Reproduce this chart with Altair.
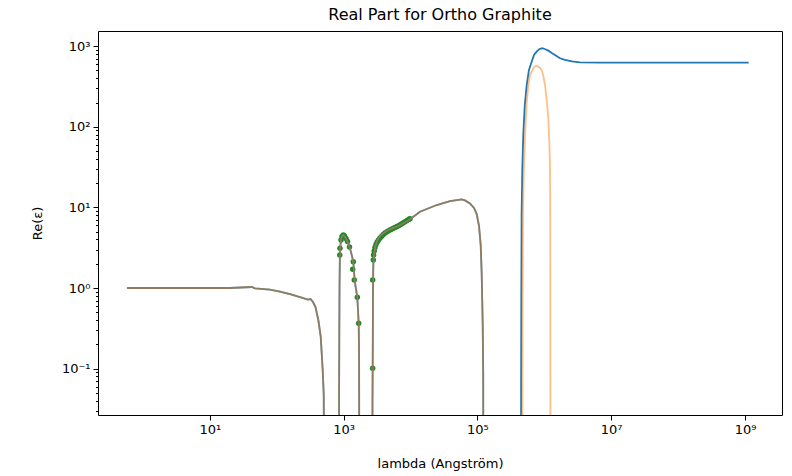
import altair as alt
import pandas as pd

# ---- Re(eps) of ortho graphite vs. wavelength (Angstrom) ----

# Branch A: near-unity region up to the first zero crossing (both curves identical)
lam_a = [0.578, 1.80, 7.13, 20.0, 42.3, 47.4, 79.4, 112, 158, 223, 294, 320, 349, 380, 419, 455, 487, 505, 513]
eps_a = [1.0, 1.0, 1.0, 1.0, 1.03, 0.99, 0.958, 0.90, 0.842, 0.773, 0.72, 0.73, 0.67, 0.581, 0.401, 0.249, 0.096, 0.047, 0.001]

# Branch B: narrow resonance around 1000 A
lam_b = [853, 856, 863, 869, 883, 914, 946, 990, 1050, 1176, 1290, 1396, 1445, 1496, 1603, 1682, 1706, 1718]
eps_b = [0.001, 0.041, 0.30, 1.03, 2.96, 3.94, 4.42, 4.55, 4.29, 3.59, 2.80, 2.12, 1.45, 1.09, 0.767, 0.365, 0.128, 0.001]

# Branch C: broad positive region from ~3000 A to ~1e5 A
lam_c = [2685, 2704, 2723, 2741, 2750, 2780, 2846, 2997, 3211, 3501, 3920, 4406, 4942, 6223, 7805, 9838,
         13870, 24650, 38940, 58210, 65260, 77450, 88920, 97670, 105700, 112000, 115900, 120000, 122100, 123000]
eps_c = [0.001, 0.041, 0.101, 0.40, 0.975, 1.93, 2.57, 3.32, 3.94, 4.42, 4.77, 5.10, 5.35, 5.76, 6.35, 7.12,
         8.85, 10.7, 12.0, 12.6, 12.2, 11.2, 9.84, 8.28, 5.88, 3.41, 1.52, 0.365, 0.0874, 0.001]

# Far-infrared branch, first curve (levels off around 620)
lam_d1 = [448800, 450500, 453000, 458000, 469000, 485000, 511000, 546000, 590000, 648000, 702000, 769000, 847000,
          933000, 1035000, 1148000, 1291000, 1447000, 1718000, 2039000, 2594000, 3418000, 6808000, 38000000,
          212800000, 1135000000]
eps_d1 = [0.001, 0.072, 0.71, 8.05, 29.1, 79.1, 186, 330, 507, 642, 778, 855, 923,
          942, 916, 880, 824, 778, 708, 675, 646, 631, 624, 624, 624, 624]

# Far-infrared branch, second curve (peaks near 570 and turns negative again)
lam_d2 = [469000, 470500, 474000, 481000, 494000, 515000, 542000, 577000, 611000, 648000, 695000, 743000, 805000,
          863000, 914000, 966000, 1024000, 1086000, 1148000, 1188000, 1217000, 1225000, 1230000, 1233000, 1237000]
eps_d2 = [0.001, 0.072, 0.71, 8.05, 29.1, 79.1, 186, 330, 438, 483, 544, 568, 560,
          537, 507, 427, 330, 215, 127, 68.6, 30.6, 8.05, 0.71, 0.072, 0.001]

# Measured points
dot_lam = [883, 877, 914, 946, 990, 1030, 1086, 1144, 1225, 1368, 1396, 1445, 1603, 1682,
           2723, 2723, 2780, 2807, 2866, 2946, 3049, 3177, 3325, 3501, 3714, 3920, 4155, 4452,
           4770, 5110, 5470, 5860, 6280, 6730, 7210, 7730, 8280, 8870, 9510, 9840]
dot_eps = [3.11, 2.57, 3.94, 4.36, 4.55, 4.42, 4.11, 3.78, 3.23, 1.71, 2.12, 1.26, 0.767, 0.365,
           0.101, 1.26, 2.22, 2.57, 2.88, 3.18, 3.46, 3.72, 3.94, 4.17, 4.39, 4.61, 4.81, 5.00,
           5.17, 5.32, 5.47, 5.63, 5.79, 5.96, 6.17, 6.40, 6.63, 6.88, 7.12, 7.22]

# Axis ticks
x_major = [10, 1e3, 1e5, 1e7, 1e9]
x_major_labels = ["10¹", "10³", "10⁵", "10⁷", "10⁹"]
y_major = [0.1, 1, 10, 100, 1000]
y_major_labels = ["10⁻¹", "10⁰", "10¹", "10²", "10³"]
y_minor = [k * 10.0 ** d for d in range(-2, 4) for k in range(2, 10) if 0.0266 <= k * 10.0 ** d <= 1540]

X_DOMAIN = [0.2133, 3.573e9]
Y_DOMAIN = [0.0266, 1542]


def curve(segments, name):
    rows = []
    for s, (lams, epss) in enumerate(segments):
        for i, (l, e) in enumerate(zip(lams, epss)):
            rows.append({"lam": l, "eps": e, "seg": f"{name}{s}", "i": i})
    return pd.DataFrame(rows)


first = curve([(lam_a, eps_a), (lam_b, eps_b), (lam_c, eps_c), (lam_d1, eps_d1)], "a")
second = curve([(lam_a, eps_a), (lam_b, eps_b), (lam_c, eps_c), (lam_d2, eps_d2)], "b")
dots = pd.DataFrame({"lam": dot_lam, "eps": dot_eps})


def label_expr(values, labels):
    parts = [f"abs(datum.value - {v}) < {v * 1e-6} ? '{t}'" for v, t in zip(values, labels)]
    return " : ".join(parts) + " : ''"


x_enc = alt.X(
    "lam:Q",
    scale=alt.Scale(type="log", domain=X_DOMAIN, nice=False, zero=False),
    axis=alt.Axis(
        values=x_major, labelExpr=label_expr(x_major, x_major_labels),
        title="lambda (Angström)", titleY=48, titleBaseline="middle",
    ),
)
y_scale = alt.Scale(type="log", domain=Y_DOMAIN, nice=False, zero=False)
y_enc = alt.Y(
    "eps:Q", scale=y_scale,
    axis=alt.Axis(
        values=y_major, labelExpr=label_expr(y_major, y_major_labels), orient="left",
        title="Re(ε)", titleX=-61, titleY=192, titleAngle=-90, titleAlign="center", titleBaseline="middle",
    ),
)

dot_layer = alt.Chart(dots).mark_circle(size=30, color="#1f8a1f", opacity=1, clip=True).encode(x=x_enc, y=y_enc)
line1 = alt.Chart(first).mark_line(color="#1f77b4", strokeWidth=1.8, clip=True).encode(
    x=x_enc, y=y_enc, detail="seg:N", order="i:Q")
line2 = alt.Chart(second).mark_line(color="#ff7f0e", strokeWidth=1.8, opacity=0.5, clip=True).encode(
    x=x_enc, y=y_enc, detail="seg:N", order="i:Q")

main = alt.layer(dot_layer, line1, line2)

# minor ticks on the log y-axis
minor = alt.Chart(pd.DataFrame({"eps": [1.0]})).mark_point(opacity=0).encode(
    y=alt.Y("eps:Q", scale=y_scale,
            axis=alt.Axis(values=y_minor, labels=False, tickSize=2.5, title=None, orient="left", domain=False)),
)

chart = (
    alt.layer(main, minor)
    .resolve_axis(y="independent")
    .properties(
        width=684,
        height=384,
        title=alt.TitleParams("Real Part for Ortho Graphite", fontSize=16, font="DejaVu Sans",
                              fontWeight="normal", color="black", anchor="middle", offset=8),
        autosize=alt.AutoSizeParams(type="none"),
        padding={"left": 98, "top": 31, "right": 10, "bottom": 61},
        background="white",
    )
    .configure_view(stroke="black", strokeWidth=1)
    .configure_axis(
        grid=False, domain=False, tickColor="black", tickWidth=1, tickSize=5,
        labelFont="DejaVu Sans", labelFontSize=13, labelColor="black", labelPadding=3,
        titleFont="DejaVu Sans", titleFontSize=13, titleFontWeight="normal", titleColor="black",
    )
)

chart.save("out.html", embed_options={"renderer": "svg", "actions": False})
